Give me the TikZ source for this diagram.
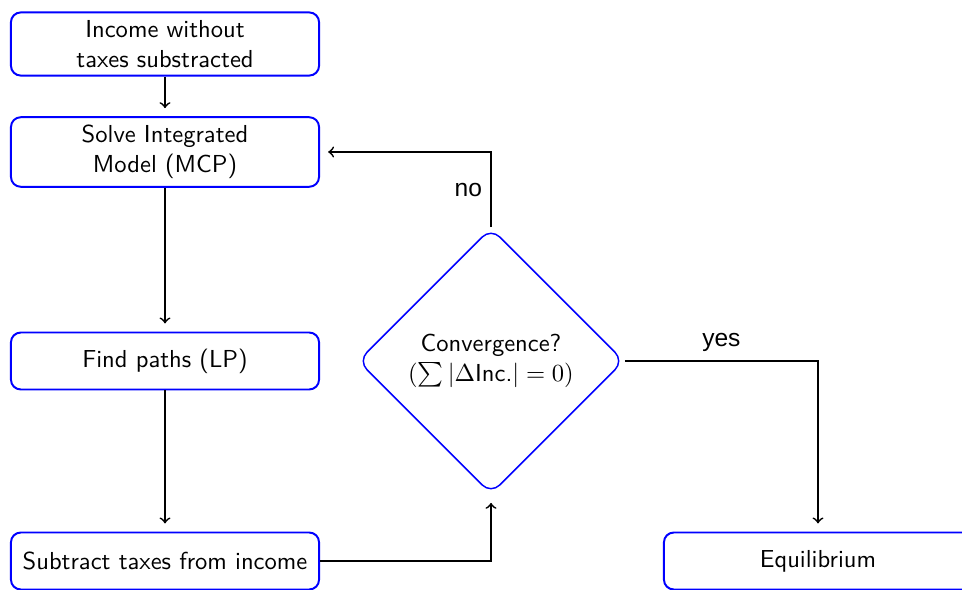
\documentclass[tikz,border=0pt]{standalone}
\usepackage{fontspec}
\newfontfamily\edgefont{Liberation Sans}
\usetikzlibrary{shapes.geometric}
\begin{document}
\begin{tikzpicture}[x=0.407pt, y=-0.407pt,
  stepbox/.style={draw=blue, line width=0.8pt, rounded corners=4pt, font=\sffamily,
    align=center, minimum width=125.4pt, minimum height=23.2pt, inner sep=3.33pt},
  decision/.style={diamond, aspect=1, draw=blue, line width=0.6pt, rounded corners=5pt,
    font=\sffamily, align=center, minimum width=108.3pt, minimum height=108.3pt, inner sep=0pt},
  flow/.style={->, line width=0.7pt, shorten >=3.3pt},
  edgelabel/.style={font=\edgefont}]
\useasboundingbox (0,0) rectangle (962,590);

% process steps
\node[stepbox] (income) at (165,44)  {Income without\\taxes substracted};
\node[stepbox] (solve)  at (165,152) {Solve Integrated\\Model (MCP)};
\node[stepbox] (paths)  at (165,361) {Find paths (LP)};
\node[stepbox] (taxes)  at (165,561) {Subtract taxes from income};
\node[decision] (conv)  at (491,361) {Convergence?\\$(\sum|\Delta\textsf{Inc.}|=0)$};
\node[stepbox] (equil)  at (818,561) {Equilibrium};

% corner points of the loop-back and exit connectors
\coordinate (nocorner)  at (conv.north |- solve.east);
\coordinate (yescorner) at (equil.north |- conv.east);

% connectors
\draw[flow] (income) -- (solve);
\draw[flow] (solve) -- (paths);
\draw[flow] (paths) -- (taxes);
\draw[flow] (taxes.east) -| (conv.south);
\draw[flow] (conv.north) -- node[edgelabel, left] {no} (nocorner) -- (solve.east);
\draw[flow] (conv.east) -- node[edgelabel, above] {yes} (yescorner) -- (equil.north);
\end{tikzpicture}
\end{document}
